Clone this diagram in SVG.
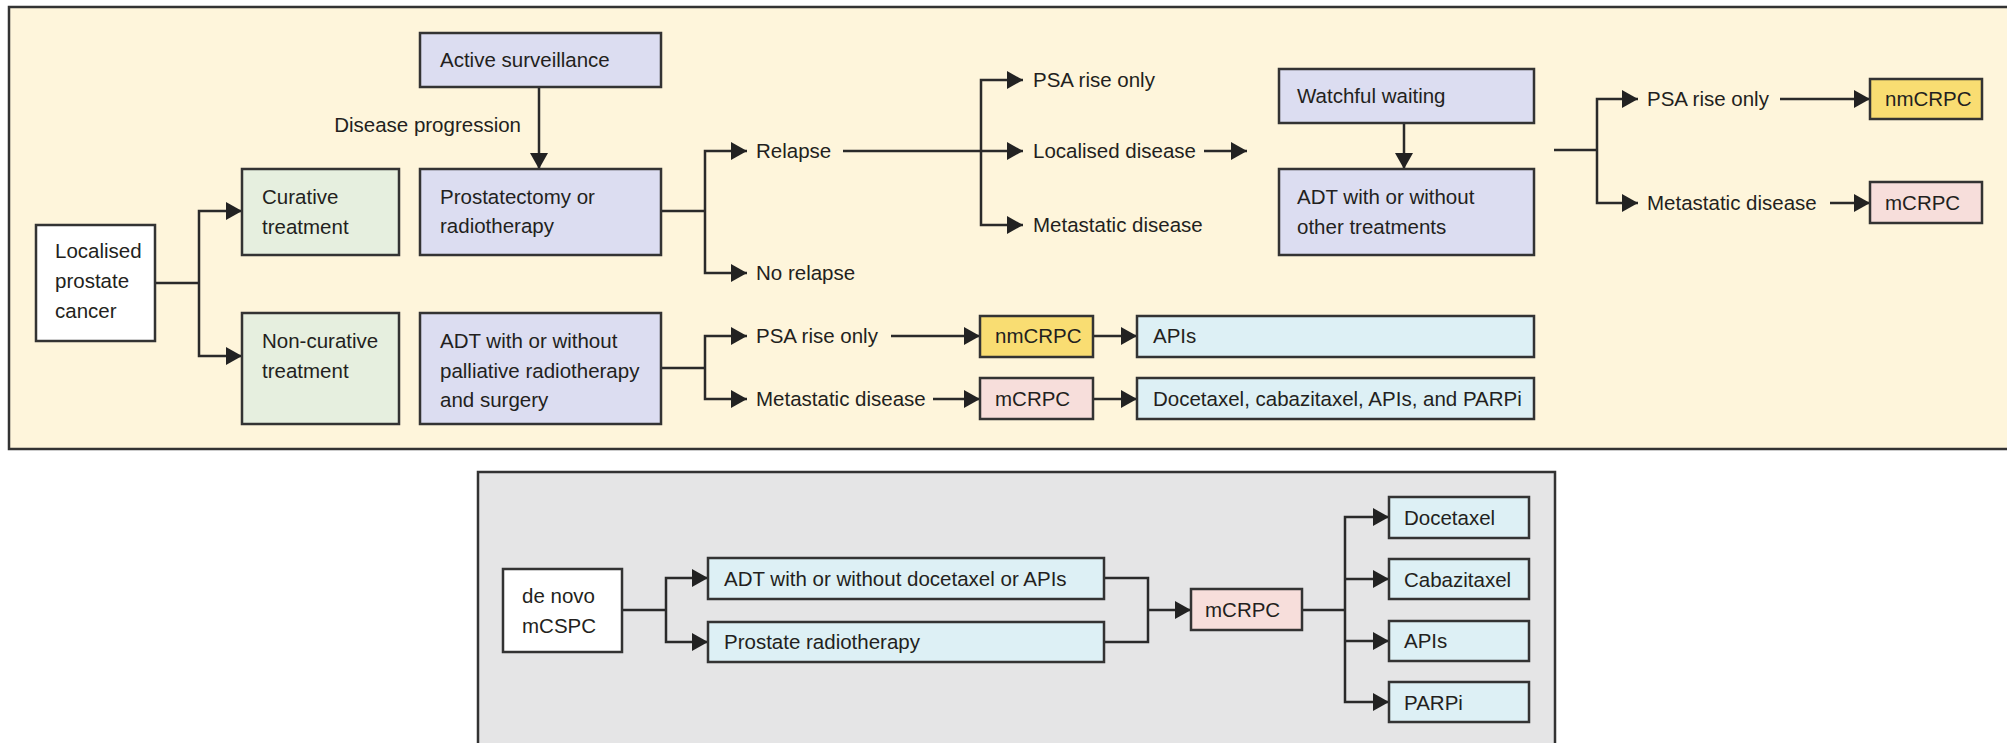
<svg xmlns="http://www.w3.org/2000/svg" width="2007" height="743" viewBox="0 0 2007 743">
<style>
.panel{stroke:#333;stroke-width:2.5}
.p1{fill:#FEF5DB}
.p2{fill:#E5E5E6}
.box{stroke:#333;stroke-width:2.5}
.wht{fill:#FFFFFF}
.lav{fill:#DCDDF1}
.grn{fill:#E6EFDF}
.blu{fill:#DDF0F5}
.yel{fill:#F9DD72}
.pnk{fill:#F7DEDB}
text{font-family:"Liberation Sans",Arial,sans-serif;font-size:20.5px;fill:#231f20}
.c{fill:none;stroke:#2a2a2a;stroke-width:2.5}
.a{marker-end:url(#ah)}
</style>
<defs>
<marker id="ah" markerUnits="userSpaceOnUse" markerWidth="17" markerHeight="18" refX="16" refY="9" orient="auto">
<path d="M0,0 L16,9 L0,18 z" fill="#222"/>
</marker>
</defs>
<rect width="2007" height="743" fill="#FFFFFF"/>
<g id="panel-top"><rect class="panel p1" x="9" y="7" width="2010" height="442"/></g>
<g id="panel-bottom"><rect class="panel p2" x="478" y="472" width="1077" height="290"/></g>

<g id="connectors">
<path class="c" d="M155,283 H199"/>
<path class="c a" d="M199,283 V211 H242"/>
<path class="c a" d="M199,283 V356 H242"/>
<path class="c a" d="M539,87 V169"/>
<path class="c" d="M661,211 H705"/>
<path class="c a" d="M705,211 V151 H747"/>
<path class="c a" d="M705,211 V273 H747"/>
<path class="c a" d="M843,151 H1023"/>
<path class="c a" d="M981,151 V80 H1023"/>
<path class="c a" d="M981,151 V225 H1023"/>
<path class="c a" d="M1204,151 H1247"/>
<path class="c a" d="M1404,123 V169"/>
<path class="c" d="M1554,150 H1597"/>
<path class="c a" d="M1597,150 V99 H1638"/>
<path class="c a" d="M1597,150 V203 H1638"/>
<path class="c a" d="M1780,99 H1870"/>
<path class="c a" d="M1830,203 H1870"/>
<path class="c" d="M661,368 H705"/>
<path class="c a" d="M705,368 V336 H747"/>
<path class="c a" d="M705,368 V399 H747"/>
<path class="c a" d="M891,336 H980"/>
<path class="c a" d="M933,399 H980"/>
<path class="c a" d="M1093,336 H1137"/>
<path class="c a" d="M1093,399 H1137"/>
<path class="c" d="M622,610 H666"/>
<path class="c a" d="M666,610 V578 H708"/>
<path class="c a" d="M666,610 V642 H708"/>
<path class="c" d="M1104,578 H1148 V642 H1104"/>
<path class="c a" d="M1148,610 H1191"/>
<path class="c" d="M1302,610 H1345"/>
<path class="c a" d="M1345,610 V517 H1389"/>
<path class="c a" d="M1345,610 V702 H1389"/>
<path class="c a" d="M1345,579 H1389"/>
<path class="c a" d="M1345,641 H1389"/>
</g>

<g id="localised"><rect class="box wht" x="36" y="225" width="119" height="116"/>
<text x="55" y="258">Localised</text><text x="55" y="288">prostate</text><text x="55" y="318">cancer</text></g>
<g id="curative"><rect class="box grn" x="242" y="169" width="157" height="86"/>
<text x="262" y="204">Curative</text><text x="262" y="234">treatment</text></g>
<g id="noncurative"><rect class="box grn" x="242" y="313" width="157" height="111"/>
<text x="262" y="348">Non-curative</text><text x="262" y="378">treatment</text></g>
<g id="active"><rect class="box lav" x="420" y="33" width="241" height="54"/>
<text x="440" y="67">Active surveillance</text></g>
<g id="label-progression"><text x="521" y="132" text-anchor="end">Disease progression</text></g>
<g id="prostatectomy"><rect class="box lav" x="420" y="169" width="241" height="86"/>
<text x="440" y="204">Prostatectomy or</text><text x="440" y="233">radiotherapy</text></g>
<g id="adt-palliative"><rect class="box lav" x="420" y="313" width="241" height="111"/>
<text x="440" y="348">ADT with or without</text><text x="440" y="378">palliative radiotherapy</text><text x="440" y="407">and surgery</text></g>
<g id="relapse"><text x="756" y="158">Relapse</text></g>
<g id="no-relapse"><text x="756" y="280">No relapse</text></g>
<g id="psa-1"><text x="1033" y="87">PSA rise only</text></g>
<g id="localised-disease"><text x="1033" y="158">Localised disease</text></g>
<g id="metastatic-1"><text x="1033" y="232">Metastatic disease</text></g>
<g id="watchful"><rect class="box lav" x="1279" y="69" width="255" height="54"/>
<text x="1297" y="103">Watchful waiting</text></g>
<g id="adt-other"><rect class="box lav" x="1279" y="169" width="255" height="86"/>
<text x="1297" y="204">ADT with or without</text><text x="1297" y="234">other treatments</text></g>
<g id="psa-2"><text x="1647" y="106">PSA rise only</text></g>
<g id="metastatic-2"><text x="1647" y="210">Metastatic disease</text></g>
<g id="nmcrpc-right"><rect class="box yel" x="1870" y="79" width="112" height="40"/>
<text x="1885" y="106">nmCRPC</text></g>
<g id="mcrpc-right"><rect class="box pnk" x="1870" y="182" width="112" height="41"/>
<text x="1885" y="210">mCRPC</text></g>
<g id="psa-3"><text x="756" y="343">PSA rise only</text></g>
<g id="metastatic-3"><text x="756" y="406">Metastatic disease</text></g>
<g id="nmcrpc"><rect class="box yel" x="980" y="316" width="113" height="41"/>
<text x="995" y="343">nmCRPC</text></g>
<g id="mcrpc"><rect class="box pnk" x="980" y="378" width="113" height="41"/>
<text x="995" y="406">mCRPC</text></g>
<g id="apis"><rect class="box blu" x="1137" y="316" width="397" height="41"/>
<text x="1153" y="343">APIs</text></g>
<g id="docetaxel-combo"><rect class="box blu" x="1137" y="378" width="397" height="41"/>
<text x="1153" y="406">Docetaxel, cabazitaxel, APIs, and PARPi</text></g>

<g id="denovo"><rect class="box wht" x="503" y="569" width="119" height="83"/>
<text x="522" y="603">de novo</text><text x="522" y="633">mCSPC</text></g>
<g id="adt-docetaxel"><rect class="box blu" x="708" y="558" width="396" height="41"/>
<text x="724" y="586">ADT with or without docetaxel or APIs</text></g>
<g id="prostate-rt"><rect class="box blu" x="708" y="622" width="396" height="40"/>
<text x="724" y="649">Prostate radiotherapy</text></g>
<g id="mcrpc-2"><rect class="box pnk" x="1191" y="589" width="111" height="41"/>
<text x="1205" y="617">mCRPC</text></g>
<g id="docetaxel"><rect class="box blu" x="1389" y="497" width="140" height="41"/>
<text x="1404" y="525">Docetaxel</text></g>
<g id="cabazitaxel"><rect class="box blu" x="1389" y="559" width="140" height="40"/>
<text x="1404" y="587">Cabazitaxel</text></g>
<g id="apis-2"><rect class="box blu" x="1389" y="621" width="140" height="40"/>
<text x="1404" y="648">APIs</text></g>
<g id="parpi"><rect class="box blu" x="1389" y="682" width="140" height="40"/>
<text x="1404" y="710">PARPi</text></g>
</svg>
